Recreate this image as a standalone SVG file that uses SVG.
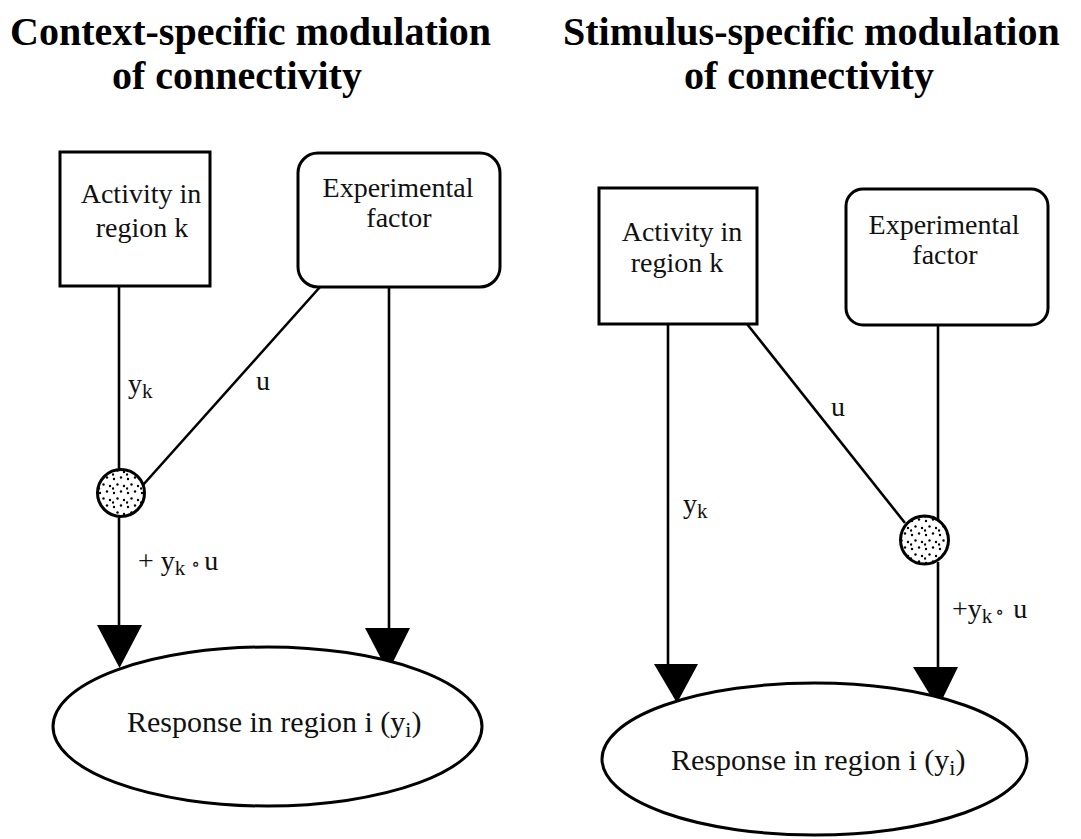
<svg xmlns="http://www.w3.org/2000/svg" width="1081" height="839" viewBox="0 0 1081 839">
<style>
  .title { font-family: "Liberation Serif", "Times New Roman", serif; font-weight: bold; font-size: 40px; fill: #000; }
  .lbl { font-family: "Liberation Serif", "Times New Roman", "DejaVu Serif", serif; font-size: 28px; fill: #111; }
  .resp { font-family: "Liberation Serif", "Times New Roman", "DejaVu Serif", serif; font-size: 30px; fill: #111; }
  .box { fill: #fff; stroke: #000; stroke-width: 3; }
  .ell { fill: #fff; stroke: #000; stroke-width: 3; }
  .mult { fill: url(#stipple); stroke: #000; stroke-width: 3; }
  .wire { stroke: #000; stroke-width: 2.6; fill: none; }
  .head { fill: #000; stroke: none; }
</style>
<defs>
  <pattern id="stipple" patternUnits="userSpaceOnUse" width="14" height="14">
    <rect width="14" height="14" fill="#fff"/>
    <circle cx="2" cy="3" r="1.2" fill="#000"/>
    <circle cx="9" cy="1.5" r="1.2" fill="#000"/>
    <circle cx="5.5" cy="8.5" r="1.2" fill="#000"/>
    <circle cx="12" cy="10" r="1.2" fill="#000"/>
    <circle cx="1" cy="12.5" r="1.2" fill="#000"/>
  </pattern>
</defs>
<rect width="1081" height="839" fill="#fff"/>

<g id="titles">
  <text class="title" x="10" y="45">Context-specific modulation</text>
  <text class="title" x="112" y="89">of connectivity</text>
  <text class="title" x="563" y="45">Stimulus-specific modulation</text>
  <text class="title" x="684" y="89">of connectivity</text>
</g>

<g id="connectors">
  <!-- left panel -->
  <line class="wire" x1="119" y1="286" x2="119" y2="470"/>
  <line class="wire" x1="320" y1="287" x2="143" y2="485"/>
  <line class="wire" x1="119" y1="516" x2="119" y2="627"/>
  <polygon class="head" points="97,625 142,625 119.5,668"/>
  <line class="wire" x1="389" y1="287" x2="389" y2="630"/>
  <polygon class="head" points="365,628 410,628 388,672"/>
  <!-- right panel -->
  <line class="wire" x1="668" y1="324" x2="668" y2="666"/>
  <polygon class="head" points="654,664 698,664 677,703"/>
  <line class="wire" x1="747" y1="324" x2="905" y2="523"/>
  <line class="wire" x1="938" y1="325" x2="938" y2="520"/>
  <line class="wire" x1="938" y1="562" x2="938" y2="669"/>
  <polygon class="head" points="913,667 958,667 938,708"/>
  <!-- connector labels -->
  <text class="lbl" x="128" y="393">y<tspan font-size="21" dy="5">k</tspan></text>
  <text class="lbl" x="256" y="390">u</text>
  <text class="lbl" x="138" y="570">+ y<tspan dy="5" font-size="21">k</tspan><tspan dx="6" dy="-5" font-family="DejaVu Serif, serif" font-size="18">∘</tspan><tspan dx="4">u</tspan></text>
  <text class="lbl" x="831" y="416">u</text>
  <text class="lbl" x="683" y="513">y<tspan font-size="21" dy="5">k</tspan></text>
  <text class="lbl" x="952" y="618">+y<tspan dy="5" font-size="21">k</tspan><tspan dx="3" dy="-5" font-family="DejaVu Serif, serif" font-size="18">∘</tspan><tspan dx="9">u</tspan></text>
</g>

<g id="left-activity">
  <rect class="box" x="60" y="152" width="150" height="134"/>
  <text class="lbl" x="141" y="203" text-anchor="middle">Activity in</text>
  <text class="lbl" x="142" y="237" text-anchor="middle">region k</text>
</g>
<g id="left-factor">
  <rect class="box" x="298" y="153" width="202" height="134" rx="20" ry="20"/>
  <text class="lbl" x="398" y="197" text-anchor="middle">Experimental</text>
  <text class="lbl" x="399" y="227" text-anchor="middle">factor</text>
</g>
<g id="left-multiplier">
  <circle class="mult" cx="121" cy="493" r="23.5"/>
</g>
<g id="left-response">
  <ellipse class="ell" cx="267.5" cy="726.5" rx="214.5" ry="79.5"/>
  <text class="resp" x="127" y="732">Response in region i (y<tspan font-size="22" dy="5">i</tspan><tspan dy="-5">)</tspan></text>
</g>

<g id="right-activity">
  <rect class="box" x="599" y="188" width="158" height="136"/>
  <text class="lbl" x="682" y="241" text-anchor="middle">Activity in</text>
  <text class="lbl" x="677" y="272" text-anchor="middle">region k</text>
</g>
<g id="right-factor">
  <rect class="box" x="846" y="189" width="202" height="136" rx="17" ry="17"/>
  <text class="lbl" x="944" y="234" text-anchor="middle">Experimental</text>
  <text class="lbl" x="945" y="264" text-anchor="middle">factor</text>
</g>
<g id="right-multiplier">
  <circle class="mult" cx="924.5" cy="540" r="24"/>
</g>
<g id="right-response">
  <ellipse class="ell" cx="814.5" cy="759" rx="212.5" ry="76"/>
  <text class="resp" x="671" y="770">Response in region i (y<tspan font-size="22" dy="5">i</tspan><tspan dy="-5">)</tspan></text>
</g>
</svg>
